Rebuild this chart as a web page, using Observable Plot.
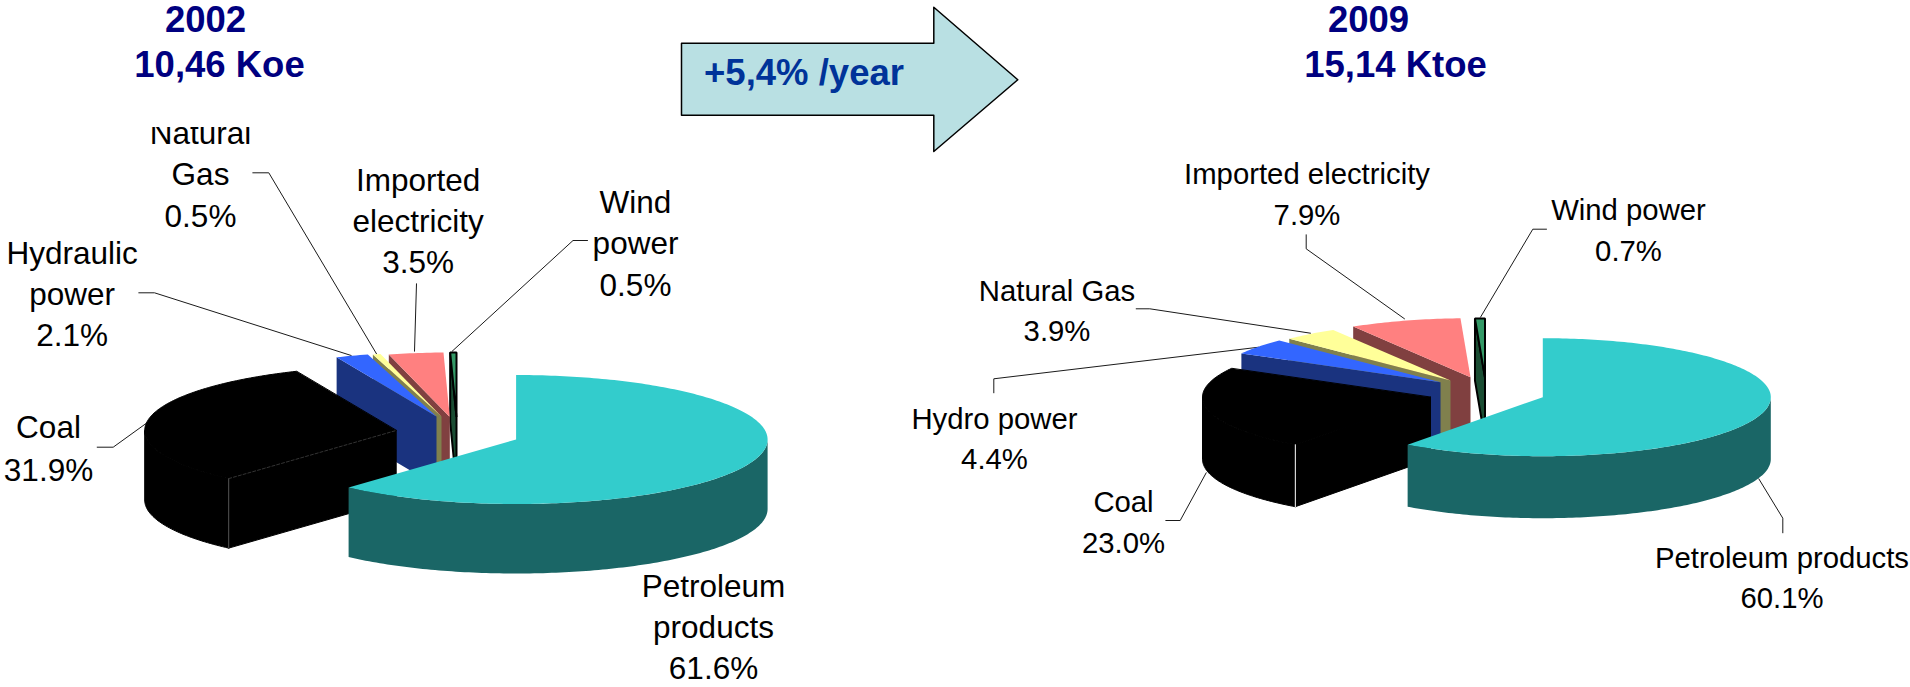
<!DOCTYPE html>
<html>
<head>
<meta charset="utf-8">
<script src="https://cdn.jsdelivr.net/npm/d3@7"></script>
<script src="https://cdn.jsdelivr.net/npm/@observablehq/plot@0.6"></script>
<style>
html,body{margin:0;padding:0;background:#fff;overflow:hidden}
svg{display:block}
</style>
</head>
<body>
<div id="chart"></div>
<script>
// ---- values ----
const sources = ["Petroleum products", "Coal", "Hydro power", "Natural Gas", "Imported electricity", "Wind power"];
const shares2002 = [61.6, 31.9, 2.1, 0.5, 3.5, 0.5];
const shares2009 = [60.1, 23.0, 4.4, 3.9, 7.9, 0.7];
const names2002 = [["Petroleum", "products"], ["Coal"], ["Hydraulic", "power"], ["Natural", "Gas"], ["Imported", "electricity"], ["Wind", "power"]];
const names2009 = [["Petroleum products"], ["Coal"], ["Hydro power"], ["Natural Gas"], ["Imported electricity"], ["Wind power"]];
const titles2002 = ["2002", "10,46 Koe"];
const titles2009 = ["2009", "15,14 Ktoe"];
const growthLabel = "+5,4% /year";

// ---- styling and layout ----
const topColors = ["#33cccc", "#000000", "#3366ff", "#ffff99", "#ff8080", "#339966"];
const wallColors = ["#1a6666", "#000000", "#1a337f", "#80804d", "#804040", "#1a4d33"];
const pies = [
  {shares: shares2002, names: names2002, rx: 251.5, ry: 64.5, depth: 69.5, fontSize: 31.5,
   apex: [[515.6, 439], [395.7, 430], [436, 416], [441, 416], [449.3, 416.5], [456, 416.5]],
   edge: "#555",
   labels: [[713, 596.7, 41], [48, 437.7, 42.3], [71.7, 263.3, 41], [200, 143, 41.5], [417.7, 190, 41], [635, 212, 41.5]],
   leaders: [
     [[138.3, 292.3], [154, 292.3], [350.7, 355]],
     [[252.3, 172.3], [268.3, 172.3], [376, 353.3]],
     [[416, 283.3], [414, 350.7]],
     [[587, 240], [572.5, 240], [451.7, 350.7]],
     [[96.7, 446.7], [112.7, 446.7], [148.3, 421]]
   ]},
  {shares: shares2009, names: names2009, rx: 228, ry: 59, depth: 62, fontSize: 29.3,
   apex: [[1542.3, 396.7], [1430, 396.7], [1440, 381.7], [1450, 380], [1470, 376.7], [1484.5, 377]],
   edge: "#fff",
   labels: [[1781.5, 567, 40], [1123, 511, 41], [994, 428, 40], [1056.5, 300, 40], [1306.5, 183.3, 40.7], [1628, 219.3, 40.7]],
   leaders: [
     [[1782.3, 532.3], [1782.3, 517.7], [1758.3, 478.3]],
     [[1165.3, 520], [1179.7, 520], [1205.7, 472.3]],
     [[993.3, 392.3], [993.3, 378.3], [1258.3, 346.7]],
     [[1135.7, 308.3], [1149.3, 308.3], [1310, 332.7]],
     [[1305.7, 234.3], [1305.7, 248.3], [1404, 318.3]],
     [[1546, 228.7], [1532.3, 228.7], [1480, 316.7]]
   ]}
];
const titleLayout = [
  {lines: titles2002, x: [205, 219], y: [31.7, 76]},
  {lines: titles2009, x: [1368, 1395], y: [31.7, 76]}
];
const arrowOutline = [[681, 42.7], [933.3, 42.7], [933.3, 6.7], [1017.3, 79.3], [933.3, 151], [933.3, 114.7], [681, 114.7]];
const maskOutline = [[140, 100], [265, 100], [265, 126.5], [140, 126.5]];

// ---- geometry derived from the shares ----
const toPts = (a) => a.map(([x, y]) => ({x, y}));
const polygon = (pts, fill, extra = {}) =>
  Plot.line(pts, {x: "x", y: "y", fill, stroke: "none", curve: "linear-closed", ...extra});

function pieMarks(p) {
  let acc = 0;
  const slices = p.shares.map((v, i) => {
    const a0 = acc * 3.6; acc += v;
    return {i, a0, a1: Math.min(acc * 3.6, 360), cx: p.apex[i][0], cy: p.apex[i][1]};
  });
  const at = (s, a, dz = 0) => {
    const t = a * Math.PI / 180;
    return {x: s.cx + p.rx * Math.sin(t), y: s.cy - p.ry * Math.cos(t) + dz};
  };
  const arc = (s, a0, a1, dz = 0) => {
    const n = Math.max(2, Math.ceil(Math.abs(a1 - a0)));
    return d3.range(n + 1).map(k => at(s, a0 + (a1 - a0) * k / n, dz));
  };
  const marks = [];
  // painter's order: from the back slice to the front slice
  for (const s of [...slices].reverse()) {
    const i = s.i, apexTop = {x: s.cx, y: s.cy}, apexBot = {x: s.cx, y: s.cy + p.depth};
    let outline = {};
    if (i === 5) outline = {stroke: "#000", strokeWidth: 2, strokeLinejoin: "miter"};
    if (i === 1) outline = {stroke: "#000", strokeWidth: 1};
    // radial wall at the start edge, facing the viewer for the left-hand slices
    if (i !== 0) marks.push(polygon([at(s, s.a0), apexTop, apexBot, at(s, s.a0, p.depth)], wallColors[i], outline));
    // outer wall, front half only
    const lo = Math.max(s.a0, 90), hi = Math.min(s.a1, 270);
    if (hi > lo) marks.push(polygon([...arc(s, lo, hi), ...arc(s, hi, lo, p.depth)], wallColors[i], i === 1 ? outline : {}));
    // top face
    marks.push(polygon([apexTop, ...arc(s, s.a0, s.a1)], topColors[i], outline));
    if (i === 1) {
      // the thin highlight along the edges of the coal slice
      marks.push(Plot.line([at(s, s.a0), at(s, s.a0, p.depth)], {x: "x", y: "y", stroke: p.edge, strokeWidth: 1}));
      if (p.edge === "#555") marks.push(Plot.line([at(s, s.a0), apexTop], {x: "x", y: "y", stroke: "#333", strokeWidth: 1, strokeDasharray: "3,2"}));
    }
  }
  return marks;
}

function labelRows(p) {
  const rows = [];
  p.names.forEach((nameLines, i) => {
    const [x, y, step] = p.labels[i];
    [...nameLines, p.shares[i].toFixed(1) + "%"].forEach((text, k) => rows.push({x, y: y + k * step, text}));
  });
  return rows;
}

const font = "Liberation Sans, Arial, sans-serif";
const titleRows = titleLayout.flatMap(t => t.lines.map((text, k) => ({text, x: t.x[k], y: t.y[k]})));

const chart = Plot.plot({
  width: 1910,
  height: 687,
  margin: 0,
  style: {background: "#fff", fontFamily: font},
  x: {domain: [0, 1910], range: [0, 1910], axis: null},
  y: {domain: [0, 687], range: [0, 687], axis: null},
  marks: [
    // arrow
    polygon(toPts(arrowOutline), "#b9e0e3", {stroke: "#000", strokeWidth: 1.5}),
    Plot.text([growthLabel], {x: () => 803.5, y: () => 84, text: d => d, fontSize: 36.5, fontWeight: "bold", fill: "#003399", textAnchor: "middle", lineAnchor: "bottom"}),
    // titles
    Plot.text(titleRows, {x: "x", y: "y", text: "text", fontSize: 36.5, fontWeight: "bold", fill: "#000080", textAnchor: "middle", lineAnchor: "bottom"}),
    // leader lines
    ...pies.flatMap(p => p.leaders.map(l => Plot.line(toPts(l), {x: "x", y: "y", stroke: "#1a1a1a", strokeWidth: 1, curve: "linear"}))),
    // pies
    ...pies.flatMap(pieMarks),
    // labels
    ...pies.map(p => Plot.text(labelRows(p), {x: "x", y: "y", text: "text", fontSize: p.fontSize, fill: "#000", textAnchor: "middle", lineAnchor: "bottom"})),
    // the first label is cut off at its top in the original
    polygon(toPts(maskOutline), "#fff")
  ]
});
document.getElementById("chart").appendChild(chart);
</script>
</body>
</html>
